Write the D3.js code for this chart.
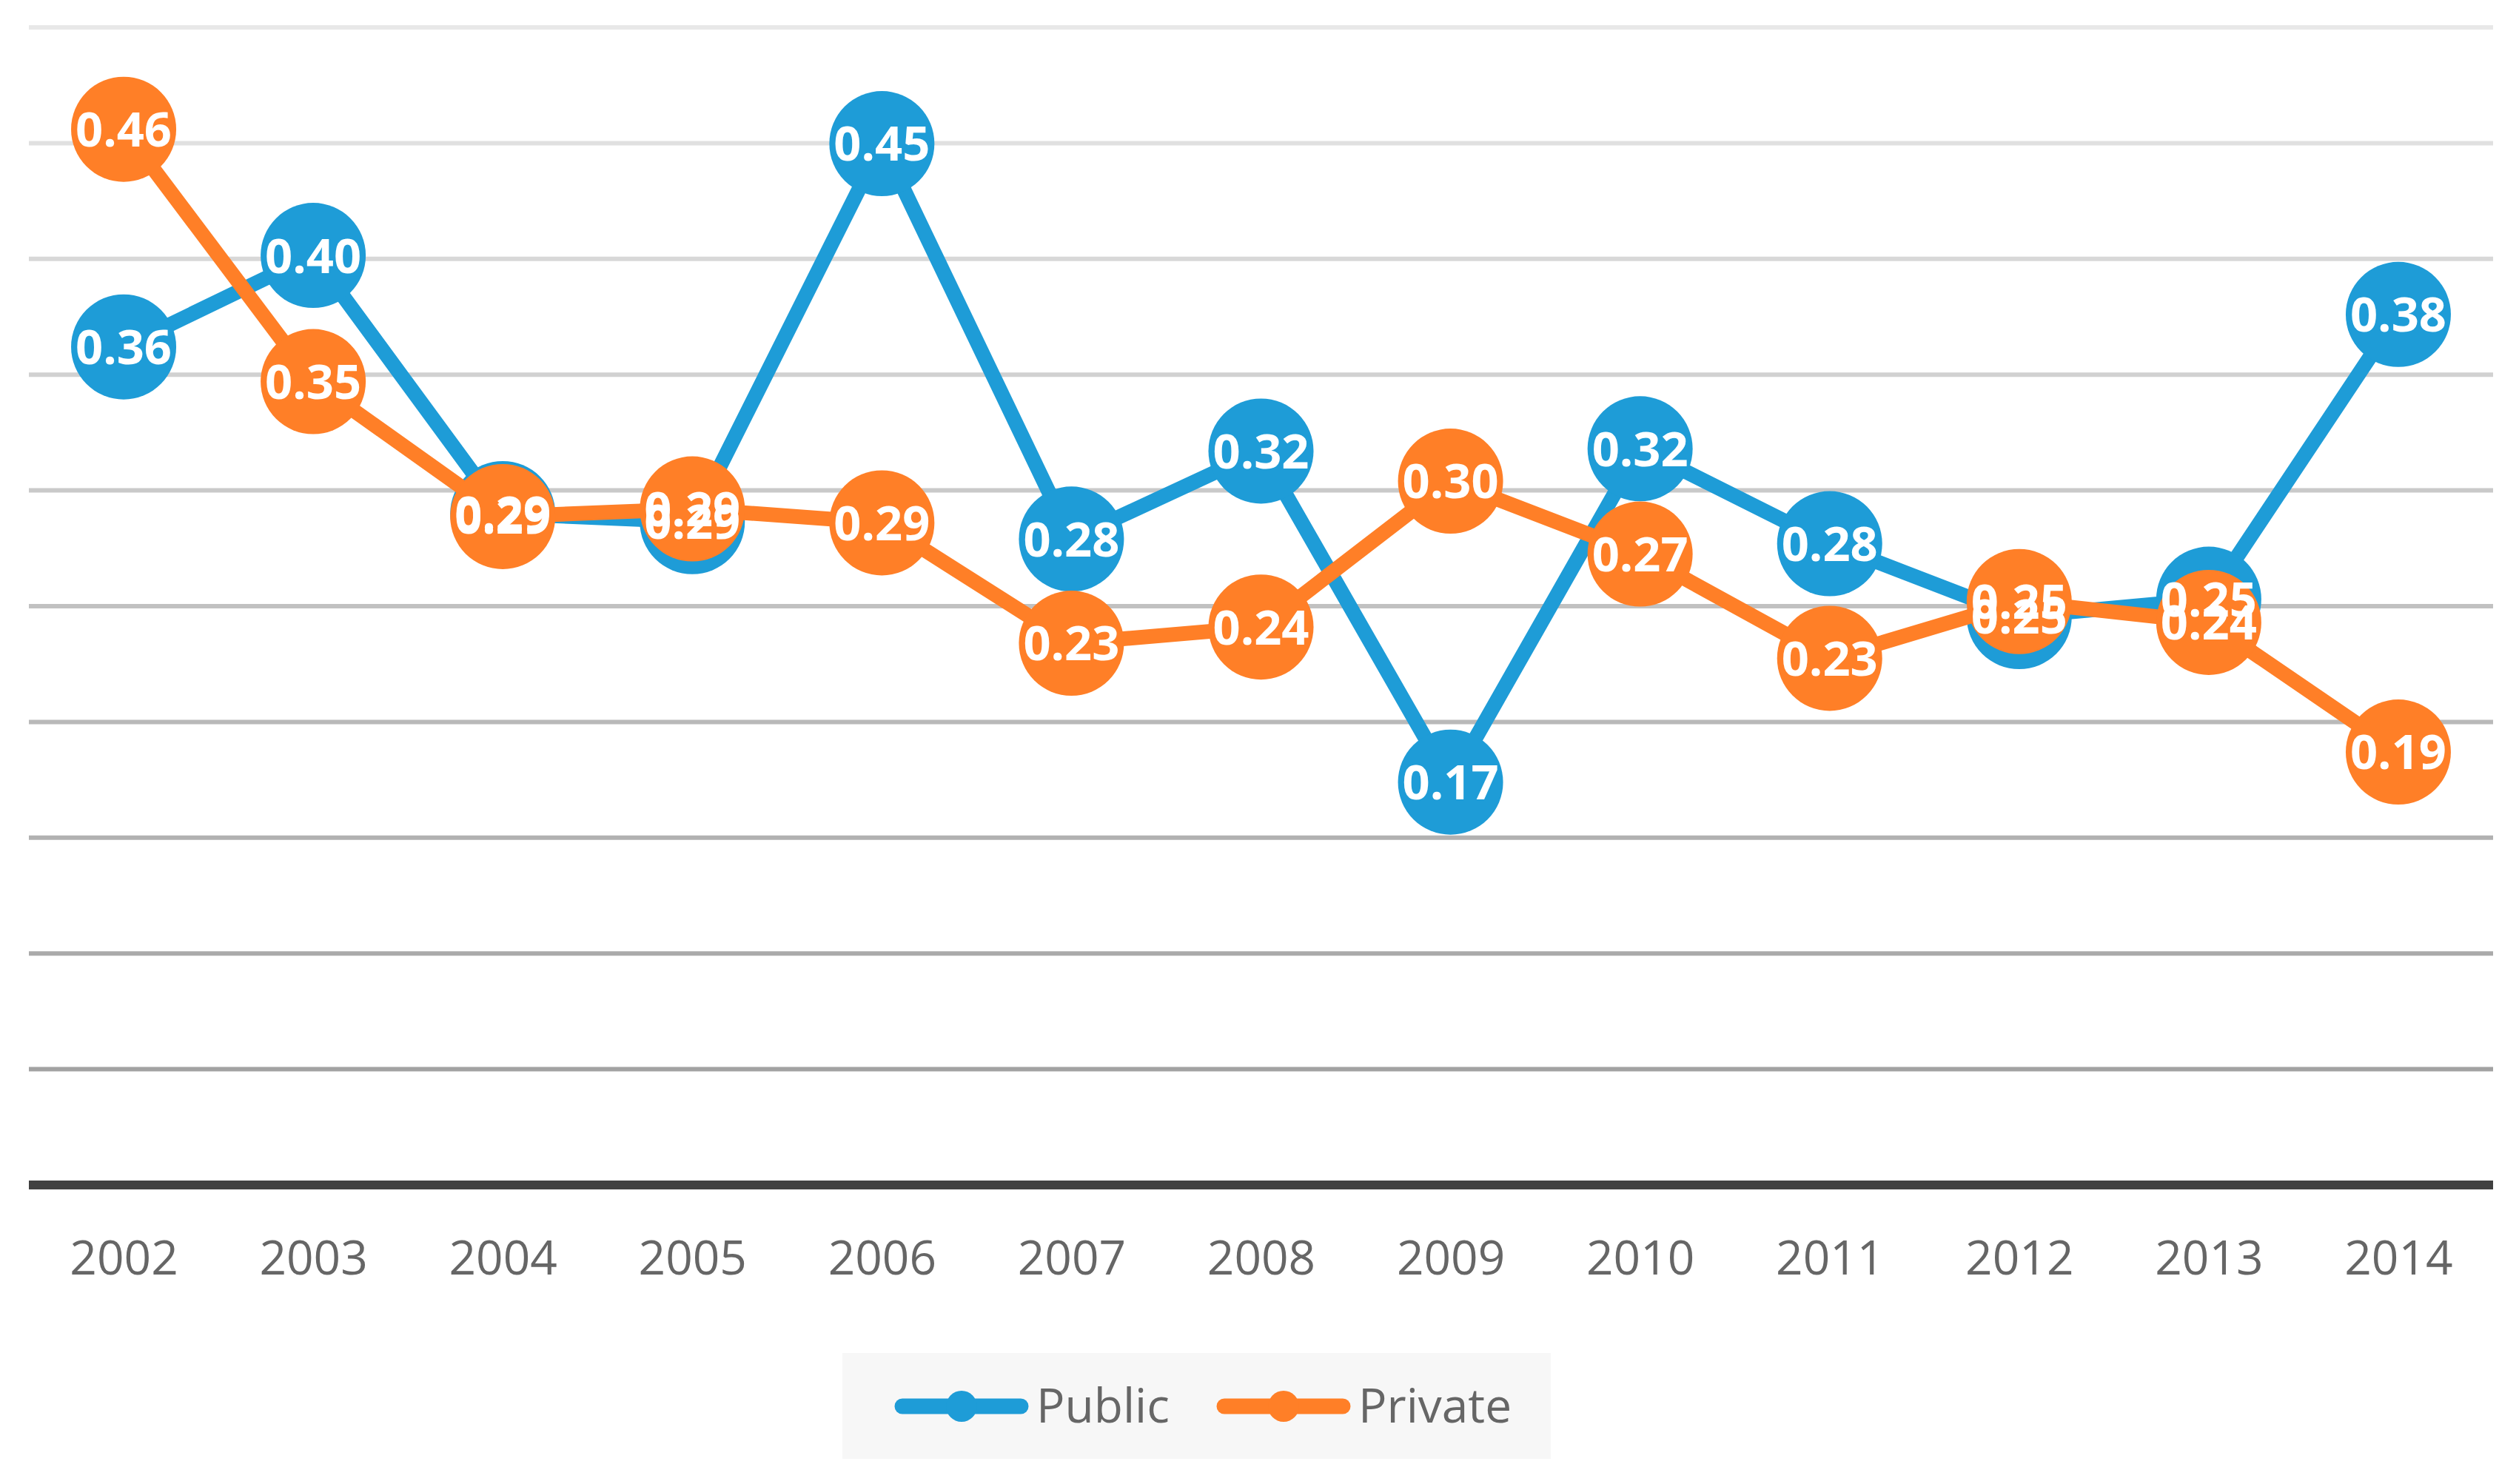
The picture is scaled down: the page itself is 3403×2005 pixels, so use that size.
<!DOCTYPE html>
<html>
<head>
<meta charset="utf-8">
<style>
  body { margin: 0; background: #fff; }
  text { font-family: "Open Sans", "Noto Sans", sans-serif; }
</style>
</head>
<body>
<script src="https://d3js.org/d3.v7.min.js"></script>
<script>
// chart values
var years = ["2002","2003","2004","2005","2006","2007","2008","2009","2010","2011","2012","2013","2014"];
var publicVals  = [0.362, 0.4015, 0.290, 0.2865, 0.4498, 0.279, 0.317, 0.174, 0.318, 0.277, 0.2455, 0.253, 0.376];
var privateVals = [0.456, 0.347, 0.2887, 0.292, 0.286, 0.234, 0.241, 0.304, 0.2725, 0.2275, 0.252, 0.243, 0.187];
var seriesNames = ["Public", "Private"];
var colours = ["#1e9cd7", "#ff7f27"];

var W = 3403, H = 2005;
var svg = d3.select("body").append("svg")
    .attr("width", W)
    .attr("height", H);

var x = d3.scalePoint()
    .domain(years)
    .range([39, 3368])
    .padding(0.5);

var y = d3.scaleLinear()
    .domain([0, 0.5])
    .range([1601, 37]);

// gridlines, getting darker toward the bottom
var gridTicks = y.ticks(10).filter(function(t) { return t > 0; });
var greys = d3.interpolateRgb("#e8e8e8", "#9a9a9a");
svg.append("g").selectAll("line")
    .data(gridTicks)
    .enter().append("line")
    .attr("x1", 39).attr("x2", 3368)
    .attr("y1", function(d) { return y(d); })
    .attr("y2", function(d) { return y(d); })
    .attr("stroke", function(d) { return greys(1 - d / 0.5); })
    .attr("stroke-width", 6);

// x axis
var xAxis = svg.append("g")
    .attr("transform", "translate(0," + y(0) + ")")
    .call(d3.axisBottom(x).tickSize(0).tickSizeOuter(0));
xAxis.select(".domain")
    .attr("stroke", "#404040")
    .attr("stroke-width", 12)
    .attr("d", "M39,0H3368");
xAxis.selectAll("text")
    .attr("y", 121)
    .attr("dy", null)
    .attr("fill", "#666666")
    .style("font-family", "'Open Sans', sans-serif")
    .style("font-size", "64px");

var series = [publicVals, privateVals];
var line = d3.line()
    .x(function(d, i) { return x(years[i]); })
    .y(function(d) { return y(d); });

series.forEach(function(vals, s) {
    var g = svg.append("g");
    g.append("path")
        .datum(vals)
        .attr("d", line)
        .attr("fill", "none")
        .attr("stroke", colours[s])
        .attr("stroke-width", 20)
        .attr("stroke-linejoin", "round");
    g.selectAll("circle")
        .data(vals)
        .enter().append("circle")
        .attr("cx", function(d, i) { return x(years[i]); })
        .attr("cy", function(d) { return y(d); })
        .attr("r", 71)
        .attr("fill", colours[s]);
});

// data labels on top of everything
var fmt = d3.format(".2f");
series.forEach(function(vals, s) {
    svg.append("g").selectAll("text")
        .data(vals)
        .enter().append("text")
        .attr("x", function(d, i) { return x(years[i]); })
        .attr("y", function(d) { return y(d); })
        .attr("dy", "0.36em")
        .attr("text-anchor", "middle")
        .attr("fill", "#ffffff")
        .style("font-size", "65px")
        .style("font-weight", "bold")
        .text(function(d) { return fmt(d); });
});

// legend
var legend = svg.append("g");
legend.append("rect")
    .attr("x", 1138).attr("y", 1828)
    .attr("width", 957).attr("height", 143)
    .attr("fill", "#f7f7f7");
var legendX = [1209, 1644];
seriesNames.forEach(function(name, s) {
    var lx = legendX[s];
    legend.append("line")
        .attr("x1", lx + 10).attr("x2", lx + 170)
        .attr("y1", 1900).attr("y2", 1900)
        .attr("stroke", colours[s])
        .attr("stroke-width", 21)
        .attr("stroke-linecap", "round");
    legend.append("circle")
        .attr("cx", lx + 90).attr("cy", 1900)
        .attr("r", 21)
        .attr("fill", colours[s]);
    legend.append("text")
        .attr("x", lx + 191).attr("y", 1922)
        .attr("fill", "#666666")
        .style("font-size", "64px")
        .text(name);
});
</script>
</body>
</html>
